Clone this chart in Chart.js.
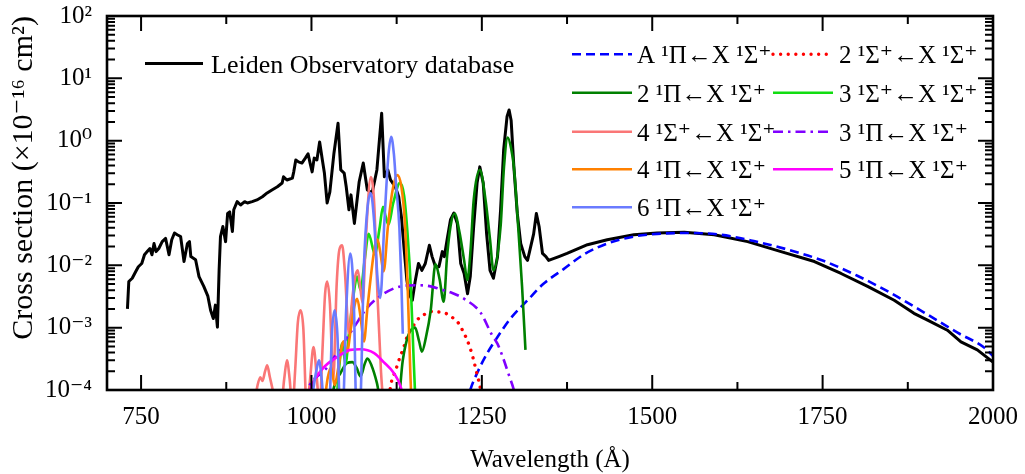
<!DOCTYPE html>
<html><head><meta charset="utf-8">
<script src="https://cdn.jsdelivr.net/npm/chart.js@4/dist/chart.umd.min.js"></script>
<style>html,body{margin:0;padding:0;background:#fff;}</style>
</head><body>
<canvas id="c" width="1025" height="474" style="display:block;width:1025px;height:474px"></canvas>
<script>
// ---------- data (wavelength Å, cross section ×1e-16 cm²) ----------
const xTicks = [750, 1000, 1250, 1500, 1750, 2000];
const xMinorTicks = [875, 1125, 1375, 1625, 1875];
const yTicks = [1e-4, 1e-3, 1e-2, 1e-1, 1, 10, 100];
const yTickLabels = ['10⁻⁴', '10⁻³', '10⁻²', '10⁻¹', '10⁰', '10¹', '10²'];

const leiden = [[730,2.0e-3],[732,5.5e-3],[737,6.2e-3],[742,7.9e-3],[746,9.5e-3],[751,1.07e-2],[755,1.48e-2],[759,1.66e-2],[763,1.86e-2],[766,1.48e-2],[769,2.24e-2],[772,1.66e-2],[776,1.86e-2],[781,2.4e-2],[786,2.7e-2],[791,1.48e-2],[795,2.57e-2],[799,3.3e-2],[803,3.1e-2],[808,2.9e-2],[813,1.15e-2],[818,2.24e-2],[821,2.4e-2],[823,1.38e-2],[830,1.23e-2],[835,6.6e-3],[842,4.6e-3],[848,3.2e-3],[852,1.9e-3],[856,1.4e-3],[859,2.3e-3],[862,1.02e-3],[864.5,8.3e-3],[866.5,2.9e-2],[870,4.2e-2],[874,2.4e-2],[877,6.8e-2],[880,7.2e-2],[884,3.5e-2],[886,7.8e-2],[891,0.105],[896,0.093],[902,0.105],[906,0.1],[913,0.105],[920,0.112],[928,0.126],[935,0.145],[942,0.162],[950,0.182],[957,0.209],[959,0.263],[964,0.234],[972,0.251],[974,0.316],[977,0.49],[981,0.457],[986,0.437],[991,0.525],[995,0.617],[998,0.437],[1001,0.316],[1004,0.525],[1008,0.49],[1012,0.955],[1016,0.49],[1019,0.302],[1023,0.1],[1027,0.151],[1033,0.63],[1039,1.9],[1043,0.339],[1048,0.302],[1051,0.182],[1055,0.078],[1058,0.135],[1063,0.047],[1070,0.219],[1076,0.437],[1082,0.162],[1089,0.145],[1096,0.339],[1103,2.75],[1107,0.263],[1112,0.339],[1116,0.234],[1123,0.182],[1128,0.126],[1132,0.06],[1136,0.018],[1140,5.8e-3],[1143,3.5e-3],[1148,2.75e-3],[1152,5.4e-3],[1157,1.07e-2],[1162,8.3e-3],[1167,1.07e-2],[1173,2.1e-2],[1177,1.38e-2],[1182,9.5e-3],[1187,9.5e-3],[1192,1.66e-2],[1195,1.38e-2],[1199,2.57e-2],[1204,5.4e-2],[1209,6.9e-2],[1214,4.7e-2],[1219,1.07e-2],[1224,7.4e-3],[1229,3.5e-3],[1233,6.6e-3],[1238,4.2e-2],[1243,0.209],[1247,0.38],[1252,0.209],[1257,3.2e-2],[1262,8.3e-3],[1267,6.2e-3],[1273,1.38e-2],[1277.5,7.8e-2],[1282,0.71],[1287,2.45],[1290,3.1],[1293,2.1],[1297,0.38],[1302,6.8e-2],[1307,2.24e-2],[1313,1.38e-2],[1317,1.2e-2],[1320,1.66e-2],[1326,3.2e-2],[1330,6.8e-2],[1334,4.2e-2],[1339,1.55e-2],[1344,1.38e-2],[1348,1.2e-2],[1356,1.29e-2],[1363,1.38e-2],[1375,1.55e-2],[1405,2.14e-2],[1434,2.57e-2],[1473,3.1e-2],[1507,3.3e-2],[1547,3.4e-2],[1591,3.1e-2],[1640,2.4e-2],[1689,1.66e-2],[1738,1.15e-2],[1777,7.4e-3],[1816,4.6e-3],[1855,2.75e-3],[1884,1.7e-3],[1904,1.32e-3],[1933,9.1e-4],[1953,5.9e-4],[1977,4.4e-4],[2000,2.8e-4]];

const aPi = [[1228,6e-5],[1233,1e-4],[1243,1.86e-4],[1258,3.9e-4],[1273,7.1e-4],[1292,1.4e-3],[1317,2.75e-3],[1340,5e-3],[1370,8.7e-3],[1400,1.5e-2],[1434,2.24e-2],[1473,2.9e-2],[1507,3.2e-2],[1552,3.3e-2],[1600,3.1e-2],[1649,2.45e-2],[1698,1.8e-2],[1752,1.17e-2],[1801,6.8e-3],[1850,3.6e-3],[1899,1.75e-3],[1948,8.3e-4],[1987,4.8e-4],[2000,3.5e-4]];

const sigma2 = [[1112,6e-5],[1118,1.45e-4],[1122,1.86e-4],[1126,2.5e-4],[1130,3.4e-4],[1134,4.4e-4],[1138,5.9e-4],[1141,7.6e-4],[1148,1.0e-3],[1154,1.29e-3],[1164,1.58e-3],[1175,1.82e-3],[1187,1.78e-3],[1199,1.66e-3],[1207,1.45e-3],[1216,1.17e-3],[1222,8.9e-4],[1227,6.9e-4],[1232,5.0e-4],[1237,3.3e-4],[1241,2.2e-4],[1244,1.6e-4],[1247,1.2e-4],[1250,7e-5]];

const pi2 = [[1028,5e-5],[1033,1.1e-4],[1043,1.9e-4],[1052,2.7e-4],[1060,2.8e-4],[1066,2.3e-4],[1072,1.65e-4],[1078,2.6e-4],[1082,3.2e-4],[1088,2.5e-4],[1096,1.3e-4],[1104,5e-5],[1126,5e-5],[1134,3.0e-4],[1142,7.5e-4],[1152,1.0e-3],[1158,6e-4],[1162,4.1e-4],[1168,7e-4],[1175,1.9e-3],[1182,1.05e-2],[1188,6e-3],[1194,2.6e-3],[1199,1.4e-2],[1204,4.2e-2],[1210,6.8e-2],[1217,3.5e-2],[1224,1.2e-2],[1228.6,5.8e-3],[1233.5,1.8e-2],[1238,0.11],[1247,0.34],[1255.5,0.11],[1262,2.6e-2],[1267,8.3e-3],[1277.5,4.2e-2],[1282.5,0.38],[1288,1.12],[1293,0.75],[1297,0.38],[1304,3.2e-2],[1309,4.6e-3],[1314,4.4e-4]];

const sigma3 = [[1036,5e-5],[1041,2.5e-4],[1045,5.6e-4],[1050,2.6e-4],[1055,8e-4],[1062,3.5e-3],[1067,6.6e-3],[1072,4e-3],[1078,1.2e-2],[1084,3.2e-2],[1093,1.5e-2],[1100,4e-2],[1105,8.7e-2],[1109,6e-2],[1113,4.5e-2],[1120,0.1],[1130,0.21],[1136,0.13],[1141,3.2e-2],[1146,4e-3],[1150,3e-4],[1153,5e-5]];

const sigma4 = [[915,5e-5],[921,1.2e-4],[925,1.6e-4],[928,1.4e-4],[932,2.0e-4],[935,2.5e-4],[939,1.6e-4],[944,9e-5],[948,5e-5],[955,5e-5],[960,1.5e-4],[964,3.0e-4],[968,1.5e-4],[972,5e-5],[976,2e-4],[980,1.2e-3],[984,1.9e-3],[988,1.0e-3],[993,5e-5],[998,1.5e-4],[1003,4.9e-4],[1008,1.5e-4],[1012,5e-5],[1016,4e-4],[1020,3.5e-3],[1023,5.5e-3],[1027,2.5e-3],[1032,1.5e-4],[1037,5e-3],[1041,1.8e-2],[1045,2.1e-2],[1049,8e-3],[1055,8e-4],[1060,3e-3],[1064,6.5e-3],[1068,8.3e-3],[1072,4e-3],[1075,2.5e-3],[1080,3e-2],[1087,0.26],[1092,0.1],[1097,3e-3],[1102,2e-4],[1106,5e-5]];

const pi3 = [[990,7e-5],[994,1e-4],[1023,2.3e-4],[1043,4.9e-4],[1062,1.0e-3],[1082,2.1e-3],[1106,3.5e-3],[1131,4.6e-3],[1155,4.8e-3],[1175,4.6e-3],[1190,4.1e-3],[1204,3.7e-3],[1224,2.9e-3],[1248,1.75e-3],[1265,7.6e-4],[1273,5.5e-4],[1281,3.3e-4],[1290,1.7e-4],[1297,1.0e-4],[1300,7e-5]];

const pi4 = [[1018,5e-5],[1024,1.6e-4],[1029,2.3e-4],[1034,1.2e-4],[1040,2.5e-4],[1047,6e-4],[1052,4e-4],[1058,1e-3],[1063,2.2e-3],[1067,2.9e-3],[1072,1.5e-3],[1077,6e-4],[1082,2e-3],[1088,8e-3],[1093,2e-2],[1097,2.6e-2],[1101,1.6e-2],[1106,8e-3],[1112,4e-2],[1119,0.16],[1126,0.28],[1132,0.18],[1137,0.05],[1141,5e-3],[1145,2e-4],[1147,5e-5]];

const pi5 = [[995,7e-5],[999,1.07e-4],[1018,2.3e-4],[1038,3.4e-4],[1057,4.4e-4],[1072,4.5e-4],[1092,3.9e-4],[1106,2.8e-4],[1121,1.86e-4],[1131,1.12e-4],[1135,7e-5]];

const pi6 = [[998,5e-5],[1003,1.1e-4],[1007,2.0e-4],[1011,3.0e-4],[1015,1.5e-4],[1019,5e-5],[1026,5e-5],[1030,8e-4],[1034,1.9e-3],[1038,8e-4],[1042,5e-5],[1046,5e-5],[1051,2e-3],[1057,1.55e-2],[1062,3e-3],[1066,5e-5],[1071,5e-5],[1077,1e-2],[1082,8e-2],[1087,0.145],[1092,5e-2],[1097,6e-3],[1101,3e-3],[1107,5e-2],[1113,0.6],[1117,1.15],[1121,0.6],[1124,0.21],[1129,4e-2],[1132,5e-3],[1134,8e-4]];

// ---------- styles ----------
const FONT = "'Liberation Serif','Times New Roman','DejaVu Serif',serif";
const series = [
  {label:'Leiden Observatory database', data:leiden, color:'#000000', width:3,   dash:[],           cap:'butt',  order:20, smooth:false},
  {label:'A ¹Π←X ¹Σ⁺',  data:aPi,    color:'#0000ff', width:2.6, dash:[9,5],         cap:'butt',  order:10, smooth:true},
  {label:'2 ¹Σ⁺←X ¹Σ⁺', data:sigma2, color:'#ff0000', width:3.4, dash:[0.01,7.6],     cap:'round', order:9,  smooth:true},
  {label:'2 ¹Π←X ¹Σ⁺',  data:pi2,    color:'#008000', width:2.6, dash:[],            cap:'butt',  order:8,  smooth:true},
  {label:'3 ¹Σ⁺←X ¹Σ⁺', data:sigma3, color:'#11dd11', width:2.6, dash:[],            cap:'butt',  order:7,  smooth:true},
  {label:'4 ¹Σ⁺←X ¹Σ⁺', data:sigma4, color:'#fa7676', width:2.6, dash:[],            cap:'butt',  order:6,  smooth:true},
  {label:'3 ¹Π←X ¹Σ⁺',  data:pi3,    color:'#8000ff', width:2.6, dash:[10,5,2.5,5],  cap:'butt',  order:5,  smooth:true},
  {label:'4 ¹Π←X ¹Σ⁺',  data:pi4,    color:'#ff8000', width:2.6, dash:[],            cap:'butt',  order:4,  smooth:true},
  {label:'5 ¹Π←X ¹Σ⁺',  data:pi5,    color:'#ff00ff', width:2.6, dash:[],            cap:'butt',  order:3,  smooth:true},
  {label:'6 ¹Π←X ¹Σ⁺',  data:pi6,    color:'#6a7bff', width:2.6, dash:[],            cap:'butt',  order:2,  smooth:true},
];

function strokeSample(ctx, s, x0, x1, y) {
  ctx.save();
  ctx.strokeStyle = s.color; ctx.lineWidth = s.width;
  ctx.setLineDash(s.dash); ctx.lineCap = s.cap;
  ctx.beginPath(); ctx.moveTo(x0, y); ctx.lineTo(x1, y); ctx.stroke();
  ctx.restore();
}

const framePlugin = {
  id: 'frameTicks',
  afterDraw(chart) {
    const {ctx, chartArea: a, scales: {x, y}} = chart;
    ctx.save();
    ctx.strokeStyle = '#000'; ctx.setLineDash([]);
    ctx.lineWidth = 2;
    ctx.beginPath();
    const tick = (px, len, horiz) => {
      if (horiz) {
        ctx.moveTo(px, a.bottom); ctx.lineTo(px, a.bottom - len);
        ctx.moveTo(px, a.top); ctx.lineTo(px, a.top + len);
      } else {
        ctx.moveTo(a.left, px); ctx.lineTo(a.left + len, px);
        ctx.moveTo(a.right, px); ctx.lineTo(a.right - len, px);
      }
    };
    xTicks.forEach(v => tick(x.getPixelForValue(v), 15, true));
    xMinorTicks.forEach(v => tick(x.getPixelForValue(v), 8, true));
    yTicks.forEach(v => tick(y.getPixelForValue(v), 15, false));
    for (let i = 0; i < yTicks.length - 1; i++) {
      for (let m = 2; m <= 9; m++) tick(y.getPixelForValue(yTicks[i] * m), 8, false);
    }
    ctx.stroke();
    ctx.lineWidth = 2.6;
    ctx.strokeRect(a.left, a.top, a.right - a.left, a.bottom - a.top);
    ctx.restore();

    // legends
    ctx.save();
    ctx.font = '25px ' + FONT;
    ctx.fillStyle = '#000'; ctx.textAlign = 'left'; ctx.textBaseline = 'alphabetic';
    strokeSample(ctx, series[0], 145, 203, 63.5);
    ctx.font = '26px ' + FONT;
    ctx.fillText(series[0].label, 211, 73);
    ctx.font = '25px ' + FONT;
    const cols = [{x0:572, x1:632, tx:637}, {x0:773, x1:833, tx:839}];
    const rows = [54.3, 92.7, 131.7, 169.3, 207.3];
    series.slice(1).forEach((s, i) => {
      const c = cols[i % 2], r = rows[Math.floor(i / 2)];
      strokeSample(ctx, s, c.x0, c.x1, r);
      ctx.fillText(s.label, c.tx, r + 9);
    });
    ctx.restore();
  }
};

new Chart(document.getElementById('c'), {
  type: 'line',
  data: {
    datasets: series.map(s => ({
      label: s.label,
      data: s.data.map(([wl, cs]) => ({x: wl, y: cs})),
      borderColor: s.color, backgroundColor: s.color,
      borderWidth: s.width, borderDash: s.dash, borderCapStyle: s.cap,
      borderJoinStyle: 'round',
      pointRadius: 0, pointHoverRadius: 0, fill: false,
      cubicInterpolationMode: s.smooth ? 'monotone' : 'default', tension: 0,
      order: s.order, clip: 0,
    }))
  },
  options: {
    responsive: false, animation: false, devicePixelRatio: 1,
    layout: {padding: {left: 0, right: 32, top: 16, bottom: 0}},
    plugins: {legend: {display: false}, tooltip: {enabled: false}, title: {display: false}},
    events: [],
    scales: {
      x: {
        type: 'linear', min: 700, max: 2000,
        afterBuildTicks: s => { s.ticks = xTicks.map(v => ({value: v})); },
        afterFit: s => { s.height = 84; s.paddingLeft = 0; s.paddingRight = 0; },
        grid: {display: false, drawTicks: false}, border: {display: false},
        ticks: {color: '#000', font: {family: FONT, size: 25, lineHeight: 1.2}, padding: 12, maxRotation: 0, autoSkip: false,
          callback: v => String(v)},
        title: {display: true, text: 'Wavelength (Å)', color: '#000', font: {family: FONT, size: 25, lineHeight: 1}, padding: {top: 0, bottom: 1}}
      },
      y: {
        type: 'logarithmic', min: 1e-4, max: 100,
        afterBuildTicks: s => { s.ticks = yTicks.map(v => ({value: v})); },
        afterFit: s => { s.width = 107; s.paddingTop = 0; s.paddingBottom = 0; },
        grid: {display: false, drawTicks: false}, border: {display: false},
        ticks: {color: '#000', font: {family: FONT, size: 25, lineHeight: 1}, padding: 15, autoSkip: false,
          callback: v => { const i = yTicks.indexOf(v); return i >= 0 ? yTickLabels[i] : ''; }},
        title: {display: true, text: 'Cross section (×10⁻¹⁶ cm²)', align: 'end', color: '#000', font: {family: FONT, size: 30, lineHeight: 1}, padding: {top: 9, bottom: 0}}
      }
    }
  },
  plugins: [framePlugin]
});
</script>
</body></html>
